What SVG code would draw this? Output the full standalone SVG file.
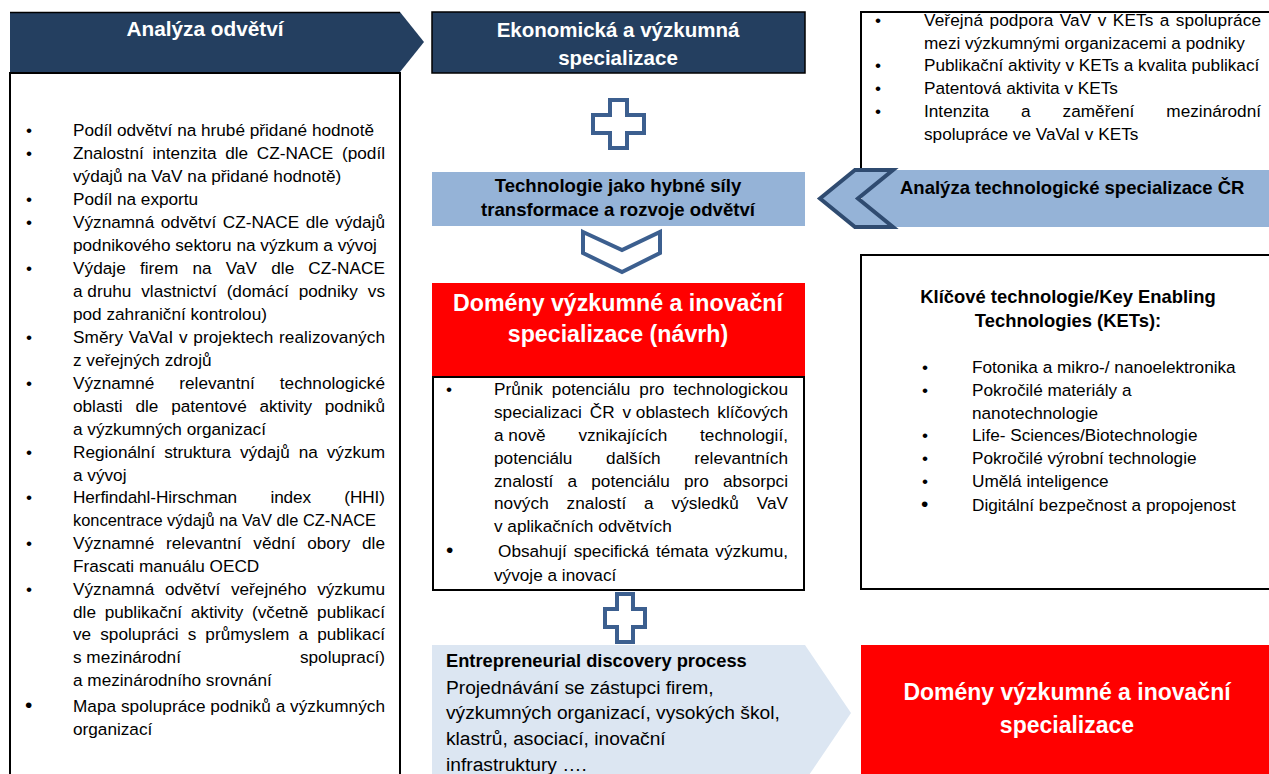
<svg xmlns="http://www.w3.org/2000/svg" width="1269" height="774" viewBox="0 0 1269 774">
<style>
text{font-family:"Liberation Sans",Arial,sans-serif;font-size:17.2px;fill:#000}
.b{font-weight:bold}
.w{fill:#fff}
.c{text-anchor:middle}
.e{text-anchor:end}
.bl{font-size:17.2px}
.bb{font-size:21px}
.z{word-spacing:0}
.frame{fill:#fff;stroke:#000;stroke-width:2}
.icon{fill:#fff;stroke:#3C5F8F;stroke-width:4;stroke-linejoin:miter}
</style>
<rect x="0" y="0" width="1269" height="774" fill="#fff"/>

<g id="n-analyza-odvetvi">
<rect class="frame" x="10" y="73" width="390" height="720"/>
<polygon points="10,12 400,12 424,42 400,72 10,72" fill="#243F60"/>
<line x1="10" y1="12.5" x2="400" y2="12.5" stroke="#000" stroke-width="1.5"/>
<line x1="10" y1="73" x2="400" y2="73" stroke="#000" stroke-width="2"/>
<text class="b w c" x="205" y="36" style="font-size:20.8px">Analýza odvětví</text>
<g>
<text x="26" y="136">•</text><text x="73" y="136">Podíl odvětví na hrubé přidané hodnotě</text>
<text x="26" y="159">•</text><text x="73" y="159" style="word-spacing:3.9px" textLength="312" lengthAdjust="spacing">Znalostní intenzita dle CZ-NACE (podíl</text>
<text x="73" y="182">výdajů na VaV na přidané hodnotě)</text>
<text x="26" y="205">•</text><text x="73" y="205">Podíl na exportu</text>
<text x="26" y="228">•</text><text x="73" y="228" style="word-spacing:1.8px" textLength="312" lengthAdjust="spacing">Významná odvětví CZ-NACE dle výdajů</text>
<text x="73" y="251">podnikového sektoru na výzkum a vývoj</text>
<text x="26" y="274">•</text><text x="73" y="274" style="word-spacing:9.3px" textLength="312" lengthAdjust="spacing">Výdaje firem na VaV dle CZ-NACE</text>
<text x="73" y="297" style="word-spacing:5.1px" textLength="312" lengthAdjust="spacing"><tspan class="z">a druhu</tspan> vlastnictví (domácí podniky vs</text>
<text x="73" y="320">pod zahraniční kontrolou)</text>
<text x="26" y="343">•</text><text x="73" y="343" style="word-spacing:0.8px" textLength="312" lengthAdjust="spacing">Směry VaVaI v projektech realizovaných</text>
<text x="73" y="366">z veřejných zdrojů</text>
<text x="26" y="389">•</text><text x="73" y="389" style="word-spacing:20.2px" textLength="312" lengthAdjust="spacing">Významné relevantní technologické</text>
<text x="73" y="412" style="word-spacing:8px" textLength="312" lengthAdjust="spacing">oblasti dle patentové aktivity podniků</text>
<text x="73" y="435">a výzkumných organizací</text>
<text x="26" y="458">•</text><text x="73" y="458" style="word-spacing:4.2px" textLength="312" lengthAdjust="spacing">Regionální struktura výdajů na výzkum</text>
<text x="73" y="481">a vývoj</text>
<text x="26" y="503">•</text><text x="73" y="503" style="word-spacing:28.7px" textLength="312" lengthAdjust="spacing">Herfindahl-Hirschman index (HHI)</text>
<text x="73" y="526" textLength="303" lengthAdjust="spacingAndGlyphs">koncentrace výdajů na VaV dle CZ-NACE</text>
<text x="26" y="549">•</text><text x="73" y="549" style="word-spacing:7px" textLength="312" lengthAdjust="spacing">Významné relevantní vědní obory dle</text>
<text x="73" y="572">Frascati manuálu OECD</text>
<text x="26" y="595">•</text><text x="73" y="595" style="word-spacing:5.8px" textLength="312" lengthAdjust="spacing">Významná odvětví veřejného výzkumu</text>
<text x="73" y="618" style="word-spacing:3.9px" textLength="312" lengthAdjust="spacing">dle publikační aktivity (včetně publikací</text>
<text x="73" y="640" style="word-spacing:4.3px" textLength="312" lengthAdjust="spacing">ve spolupráci s průmyslem a publikací</text>
<text x="73" y="663">s mezinárodní</text><text class="e" x="385" y="663">spoluprací)</text>
<text x="73" y="686">a mezinárodního srovnání</text>
<text class="bb" x="25" y="712">•</text><text x="73" y="712" textLength="312" lengthAdjust="spacing">Mapa spolupráce podniků a výzkumných</text>
<text x="73" y="735">organizací</text>
</g>
</g>

<g id="n-ekonomicka">
<rect x="432" y="12" width="373" height="61" fill="#243F60" stroke="#000" stroke-width="1.5"/>
<text class="b w c" x="618" y="36.5" style="font-size:20.5px">Ekonomická a výzkumná</text>
<text class="b w c" x="618" y="65" style="font-size:20.5px">specializace</text>
</g>

<g id="n-kets-analyza">
<rect class="frame" x="861" y="12" width="430" height="170"/>
<text x="875" y="25.5">•</text><text x="924" y="25.5" style="word-spacing:1.5px" textLength="337" lengthAdjust="spacing">Veřejná podpora VaV v KETs a spolupráce</text>
<text x="924" y="48.5">mezi výzkumnými organizacemi a podniky</text>
<text x="875" y="71">•</text><text x="924" y="71">Publikační aktivity v KETs a kvalita publikací</text>
<text x="875" y="94">•</text><text x="924" y="94">Patentová aktivita v KETs</text>
<text x="875" y="117">•</text><text x="924" y="117" style="word-spacing:27.2px" textLength="337" lengthAdjust="spacing">Intenzita a zaměření mezinárodní</text>
<text x="924" y="140">spolupráce ve VaVaI v KETs</text>
</g>

<g id="n-technologie">
<rect x="432" y="172" width="373" height="54" fill="#95B3D7"/>
<text class="b c" x="618" y="192" style="font-size:18.6px">Technologie jako hybné síly</text>
<text class="b c" x="618" y="216" style="font-size:18.6px">transformace a rozvoje odvětví</text>
</g>

<g id="n-analyza-tech">
<rect x="862" y="170" width="407" height="57" fill="#95B3D7"/>
<polygon points="820,198.5 855,170 893,170 858,198.5 893,227 855,227" fill="#95B3D7" stroke="#2F4B70" stroke-width="4" stroke-linejoin="miter"/>
<text class="b" x="900" y="194" style="font-size:18.5px">Analýza technologické specializace ČR</text>
</g>

<g id="n-domeny-navrh">
<rect x="432" y="283" width="373" height="94" fill="#FF0000"/>
<text class="b w c" x="618" y="311" style="font-size:23.2px">Domény výzkumné a inovační</text>
<text class="b w c" x="618" y="342" style="font-size:23.2px">specializace (návrh)</text>
<rect class="frame" x="433" y="377" width="371" height="213"/>
<text x="446" y="395">•</text><text x="494" y="395" style="word-spacing:4.3px" textLength="294" lengthAdjust="spacing">Průnik potenciálu pro technologickou</text>
<text x="494" y="418" style="word-spacing:3.1px" textLength="294" lengthAdjust="spacing">specializaci ČR <tspan class="z">v oblastech</tspan> klíčových</text>
<text x="494" y="441" style="word-spacing:28px" textLength="294" lengthAdjust="spacing"><tspan class="z">a nově</tspan> vznikajících technologií,</text>
<text x="494" y="464" style="word-spacing:28.9px" textLength="294" lengthAdjust="spacing">potenciálu dalších relevantních</text>
<text x="494" y="487" style="word-spacing:9.4px" textLength="294" lengthAdjust="spacing">znalostí a potenciálu pro absorpci</text>
<text x="494" y="509" style="word-spacing:13px" textLength="294" lengthAdjust="spacing">nových znalostí a výsledků VaV</text>
<text x="494" y="532">v aplikačních odvětvích</text>
<text class="bb" x="446" y="557">•</text><text x="498" y="557" style="word-spacing:2px" textLength="290" lengthAdjust="spacing">Obsahují specifická témata výzkumu,</text>
<text x="494" y="581">vývoje a inovací</text>
</g>

<g id="n-kets">
<rect class="frame" x="861" y="255" width="430" height="334"/>
<text class="b c" x="1068" y="303" style="font-size:18.4px">Klíčové technologie/Key Enabling</text>
<text class="b c" x="1068" y="327" style="font-size:18.4px">Technologies (KETs):</text>
<text x="922" y="373">•</text><text x="972" y="373">Fotonika a mikro-/ nanoelektronika</text>
<text x="922" y="396">•</text><text x="972" y="396">Pokročilé materiály a</text>
<text x="972" y="419">nanotechnologie</text>
<text x="922" y="441">•</text><text x="972" y="441">Life- Sciences/Biotechnologie</text>
<text x="922" y="464">•</text><text x="972" y="464">Pokročilé výrobní technologie</text>
<text x="922" y="487">•</text><text x="972" y="487">Umělá inteligence</text>
<text class="bb" x="921" y="511">•</text><text x="972" y="511">Digitální bezpečnost a propojenost</text>
</g>

<g id="n-edp">
<polygon points="432,645 805,645 851,713 805,781 432,781" fill="#DCE6F2"/>
<text class="b" x="446" y="667" style="font-size:18.3px">Entrepreneurial discovery process</text>
<text x="446" y="693.5" style="font-size:19.2px">Projednávání se zástupci firem,</text>
<text x="446" y="719" style="font-size:19.2px">výzkumných organizací, vysokých škol,</text>
<text x="446" y="744.5" style="font-size:19.2px">klastrů, asociací, inovační</text>
<text x="446" y="770.5" style="font-size:19.2px">infrastruktury ….</text>
</g>

<g id="n-domeny">
<rect x="861" y="645" width="408" height="129" fill="#FF0000"/>
<text class="b w c" x="1067" y="700" style="font-size:23px">Domény výzkumné a inovační</text>
<text class="b w c" x="1067" y="733" style="font-size:23px">specializace</text>
</g>

<g id="connectors">
<polygon class="icon" points="610,100 627,100 627,115 644,115 644,133 627,133 627,148 610,148 610,133 593,133 593,115 610,115"/>
<polygon class="icon" points="583,232 622,250 660,232 660,253 622,272 583,253"/>
<polygon class="icon" points="617,594 633,594 633,609 645,609 645,627 633,627 633,642 617,642 617,627 605,627 605,609 617,609"/>
</g>
</svg>
